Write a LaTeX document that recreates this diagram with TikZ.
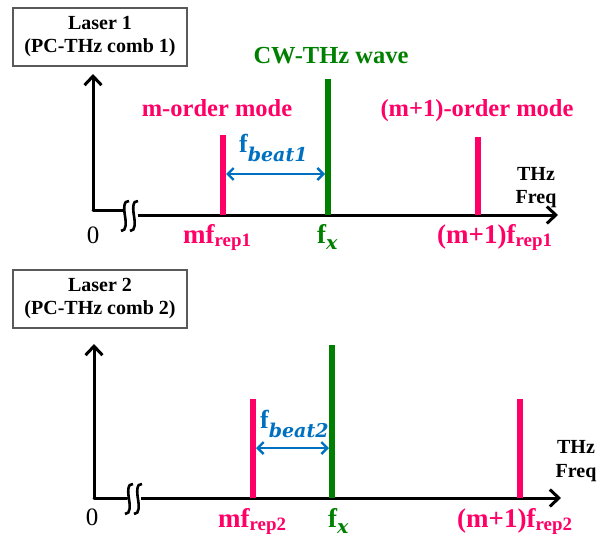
\documentclass[tikz,border=0pt]{standalone}
\usepackage{fontspec}
\setmainfont{Liberation Serif}
\newfontfamily\beatfont{DejaVu Serif}
\usetikzlibrary{arrows.meta, positioning, calc}
\definecolor{modepink}{RGB}{255,0,102}
\definecolor{cwgreen}{RGB}{0,128,0}
\definecolor{beatblue}{RGB}{0,112,192}

\begin{document}
\begin{tikzpicture}[x=1pt, y=-1pt,
    laser/.style={draw=black!65, line width=1.2pt, minimum width=174pt, minimum height=58pt, align=center, font=\fontsize{20}{23}\selectfont\bfseries, inner sep=0pt},
    axisline/.style={line width=3pt, -{Straight Barb[length=9pt, width=17pt]}},
    stub/.style={line width=3pt},
    squig/.style={line width=2.6pt},
    modebar/.style={line width=6pt, modepink},
    cwbar/.style={line width=6pt, cwgreen},
    beat/.style={beatblue, line width=2.4pt, {Straight Barb[length=6pt, width=12pt]}-{Straight Barb[length=6pt, width=12pt]}, shorten <=3pt, shorten >=3pt},
    modelabel/.style={text=modepink, font=\fontsize{24.5}{28}\selectfont\bfseries, inner sep=0pt, anchor=base},
    ticklabel/.style={font=\fontsize{27}{30}\selectfont\bfseries, inner sep=0pt, anchor=base west},
    beatlabel/.style={text=beatblue, font=\fontsize{26}{28}\selectfont\bfseries, inner sep=0pt, anchor=base west},
    freqlabel/.style={font=\fontsize{20}{24}\selectfont\bfseries, align=center, inner sep=0pt, anchor=base},
    zerolabel/.style={font=\fontsize{25}{28}\selectfont, inner sep=0pt, anchor=base}
]
    \useasboundingbox (0,0) rectangle (607,538);

    % ---------- Laser 1 ----------
    \node[laser] (las1) at (100,37) {Laser 1\\(PC-THz comb 1)};

    \coordinate (o1) at (93,210);
    \coordinate (yt1) at (93,74);
    \coordinate (s1) at (123,210);
    \coordinate (a1) at (138,215);
    \coordinate (xt1) at (558,215);
    \draw[axisline] (o1) -- (yt1);
    \draw[stub, line cap=round] (o1) -- (s1);
    \draw[axisline] (a1) -- (xt1);
    \foreach \dx in {125,134}
        \draw[squig] (\dx+4,201) .. controls (\dx-2,200) and (\dx-1,210) .. (\dx,216)
                     .. controls (\dx+1,222) and (\dx+2,231) .. (\dx-4,231);

    % lignes du peigne
    \coordinate (m1) at (223,215);
    \coordinate (x1) at (328,215);
    \coordinate (n1) at (478,215);
    \draw[modebar] (m1) -- (223,135);
    \draw[cwbar] (x1) -- (328,79);
    \draw[modebar] (n1) -- (478,137);
    \draw[beat] ($(m1)+(0,-41)$) -- ($(x1)+(0,-41)$);

    \node[text=cwgreen, font=\fontsize{24.5}{28}\selectfont\bfseries, inner sep=0pt, anchor=base] (cw) at (331,63) {CW-THz wave};
    \node[modelabel] (mord1) at (217,116) {m-order mode};
    \node[modelabel] (nord1) at (477,116) {(m+1)-order mode};
    \node[beatlabel] (fb1) at (239,152) {f\raisebox{-9pt}{\beatfont\fontsize{19}{20}\selectfont\bfseries\itshape beat1}};
    \node[freqlabel] (thz1) at (536,180) {THz};
    \node[freqlabel] (fq1) at (536,203) {Freq};
    \node[zerolabel] (z1) at (93,243) {0};
    \node[ticklabel, text=modepink] (lm1) at (183,243) {mf\textsubscript{rep1}};
    \node[ticklabel, text=cwgreen] (lx1) at (317,243) {f\raisebox{-6pt}{\beatfont\fontsize{19}{20}\selectfont\bfseries\itshape x}};
    \node[ticklabel, text=modepink] (ln1) at (437,243) {(m+1)f\textsubscript{rep1}};

    % ---------- Laser 2 ----------
    \node[laser] (las2) at (100,299) {Laser 2\\(PC-THz comb 2)};

    \coordinate (o2) at (94,498);
    \coordinate (yt2) at (94,344);
    \coordinate (s2) at (127,498);
    \coordinate (a2) at (141,498);
    \coordinate (xt2) at (561,498);
    \draw[axisline] (o2) -- (yt2);
    \draw[stub, line cap=round] (o2) -- (s2);
    \draw[axisline] (a2) -- (xt2);
    \foreach \dx in {129,138}
        \draw[squig] (\dx+4,484) .. controls (\dx-2,483) and (\dx-1,493) .. (\dx,499)
                     .. controls (\dx+1,505) and (\dx+2,514) .. (\dx-4,514);

    \coordinate (m2) at (253,498);
    \coordinate (x2) at (332,498);
    \coordinate (n2) at (520,498);
    \draw[modebar] (m2) -- (253,399);
    \draw[cwbar] (x2) -- (332,345);
    \draw[modebar] (n2) -- (520,399);
    \draw[beat] ($(m2)+(0,-50)$) -- ($(x2)+(0,-50)$);

    \node[beatlabel] (fb2) at (260,428) {f\raisebox{-9pt}{\beatfont\fontsize{19}{20}\selectfont\bfseries\itshape beat2}};
    \node[freqlabel] (thz2) at (576,453) {THz};
    \node[freqlabel] (fq2) at (576,477) {Freq};
    \node[zerolabel] (z2) at (92,525) {0};
    \node[ticklabel, text=modepink] (lm2) at (218,527) {mf\textsubscript{rep2}};
    \node[ticklabel, text=cwgreen] (lx2) at (328,527) {f\raisebox{-6pt}{\beatfont\fontsize{19}{20}\selectfont\bfseries\itshape x}};
    \node[ticklabel, text=modepink] (ln2) at (457,527) {(m+1)f\textsubscript{rep2}};
\end{tikzpicture}
\end{document}
